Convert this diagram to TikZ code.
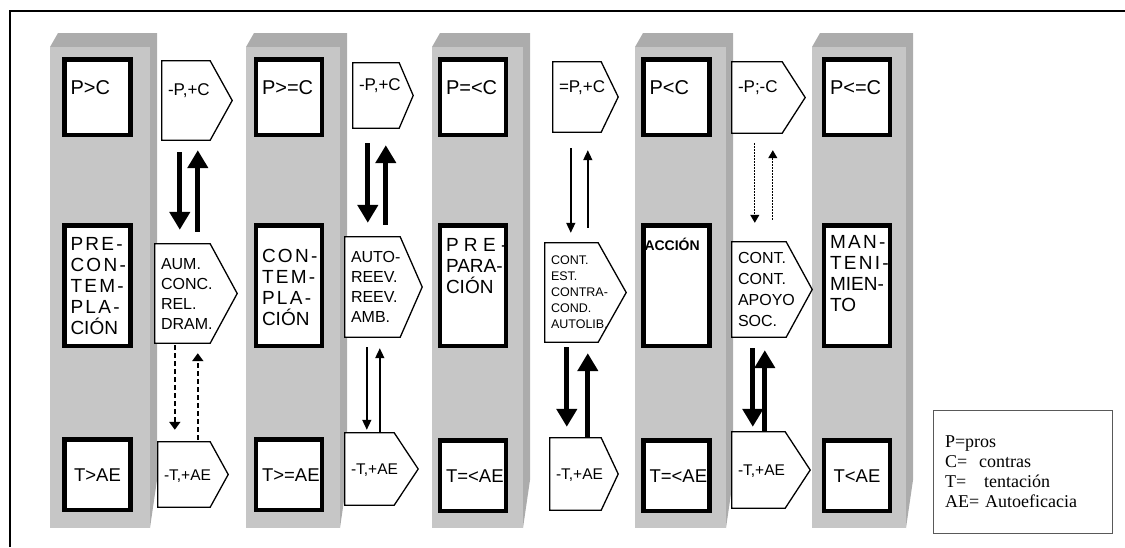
\documentclass[tikz,border=0pt]{standalone}
\usepackage{fontspec}
\setmainfont{Liberation Sans}
\newfontfamily\legendfont{Liberation Serif}
\newfontfamily\spaced{Liberation Sans}[LetterSpace=12]
\newfontfamily\spacedwide{Liberation Sans}[LetterSpace=28]
\usetikzlibrary{arrows.meta,calc,positioning}
\definecolor{pillar}{RGB}{198,198,198}
\definecolor{pillaredge}{RGB}{172,172,172}

\begin{document}
\exhyphenpenalty=10000 \hyphenpenalty=10000
\begin{tikzpicture}[x=1pt,y=-1pt,
  stage/.style={draw, fill=white, line width=4.5, minimum width=66, text width=54,
    inner xsep=6, inner ysep=2, align=left},
  cond/.style={stage, minimum height=75.5, text height=15, text depth=21,
    font=\fontsize{20}{24}\selectfont},
  phase/.style={stage, minimum height=120.5, text height=15,
    font=\fontsize{19}{21}\selectfont},
  risk/.style={stage, minimum height=70.5, align=center, text height=13, text depth=0,
    font=\fontsize{18.5}{22}\selectfont},
  proc/.style={fill=white, inner xsep=6, inner ysep=2, align=left},
  bal/.style={proc, text height=12, text depth=22, font=\fontsize{17}{20}\selectfont},
  tae/.style={proc, text height=11, text depth=0, font=\fontsize{15.5}{18}\selectfont},
  outline/.style={line width=1.3, line join=miter},
  strong/.style={line width=5, -{Triangle[length=18pt,width=20pt]}},
  light/.style={line width=1.5, -{Triangle[length=10pt,width=9pt]}},
  hint/.style={line width=2, dash pattern=on 5pt off 3pt, -{Triangle[length=8pt,width=11pt]}},
  faint/.style={line width=1.2, dash pattern=on 1.5pt off 1.5pt, -{Triangle[length=8pt,width=9pt]}},
  legend/.style={draw=black!65, line width=1, text width=155, inner xsep=12,
    minimum height=123, align=left, font={\fontsize{18}{20}\legendfont}}]
  \useasboundingbox (0,0) rectangle (1125,547);
  % outer frame (open at right and bottom)
  \draw[line width=2] (10,547) -- (10,11) -- (1125,11);

  % pillars, one per stage
  \fill[pillaredge] (50,47) -- (58,33) -- (157,33) -- (157,480) -- (150,528) -- (150,47) -- cycle;
  \fill[pillaredge] (246,47) -- (254,33) -- (347,33) -- (347,480) -- (340,528) -- (340,47) -- cycle;
  \fill[pillaredge] (432,47) -- (440,33) -- (530,33) -- (530,480) -- (523,528) -- (523,47) -- cycle;
  \fill[pillaredge] (635,47) -- (643,33) -- (733,33) -- (733,480) -- (726,528) -- (726,47) -- cycle;
  \fill[pillaredge] (812,47) -- (820,33) -- (913,33) -- (913,480) -- (906,528) -- (906,47) -- cycle;
  % front faces, lighter
  \fill[pillar] (50,47) rectangle (150,528);
  \fill[pillar] (246,47) rectangle (340,528);
  \fill[pillar] (432,47) rectangle (523,528);
  \fill[pillar] (635,47) rectangle (726,528);
  \fill[pillar] (812,47) rectangle (906,528);

  % pros / contras
  \node[cond] (pc1) at (97.5,97) {P>C};
  \node[cond] (pc2) at (289,97) {P>=C};
  \node[cond] (pc3) at (473,97) {P=<C};
  \node[cond] (pc4) at (676.5,97) {P<C};
  \node[cond] (pc5) at (857,97) {P<=C};
  % stages
  \node[phase, text depth=86] (st1) at (97.5,285.5)
    {{\spaced PRE-}\\{\spaced CON-}\\{\spaced TEM-}\\{\spaced PLA-}\\CIÓN};
  \node[phase, text depth=62] (st2) at (289,285.5)
    {{\spaced CON-}\\{\spaced TEM-}\\{\spaced PLA-}\\CIÓN};
  \node[phase, text depth=84] (st3) at (473,285.5) {{\spacedwide PRE-}\\PARA-\\CIÓN};
  \node[phase, text depth=86] (st4) at (676.5,285.5)
    {\hspace*{-5pt}{\fontsize{14}{16}\selectfont\bfseries ACCIÓN}};
  \node[phase, text depth=90] (st5) at (857,285.5) {{\spaced MAN-}\\{\spaced TENI-}\\MIEN-\\TO};
  % temptation / self-efficacy
  \node[risk] (ta1) at (97.5,474.5) {T>AE};
  \node[risk] (ta2) at (289,474.5) {T>=AE};
  \node[risk] (ta3) at (473,475.5) {T=<AE};
  \node[risk] (ta4) at (676.5,475.5) {T=<AE};
  \node[risk] (ta5) at (857,475.5) {T<AE};

  % change of balance (top row)
  \node[bal, minimum width=48, text width=36, minimum height=79] (bal1) at (186,100.5) {-P,+C};
  \node[bal, minimum width=46, text width=34, minimum height=65] (bal2) at (376,95.5) {-P,+C};
  \node[bal, minimum width=48, text width=36, minimum height=70] (bal3) at (577,97) {=P,+C};
  \node[bal, minimum width=50, text width=38, minimum height=71] (bal4) at (757,97.5) {-P;-C};
  % processes of change (middle row)
  \node[proc, minimum width=55, text width=43, minimum height=99, font=\fontsize{16}{20}\selectfont]
    (proc1) at (182.5,293.5) {AUM.\\CONC.\\REL.\\DRAM.};
  \node[proc, minimum width=55, text width=43, minimum height=100, font=\fontsize{16}{20}\selectfont]
    (proc2) at (372.5,287) {AUTO-\\REEV.\\REEV.\\AMB.};
  \node[proc, minimum width=53, text width=41, minimum height=99, font=\fontsize{12.5}{16}\selectfont]
    (proc3) at (571.5,292.5) {CONT.\\EST.\\CONTRA-\\COND.\\AUTOLIB.};
  \node[proc, minimum width=54, text width=42, minimum height=95, font=\fontsize{16}{21}\selectfont]
    (proc4) at (759,289.5) {CONT.\\CONT.\\APOYO\\SOC.};
  % temptation / self-efficacy change (bottom row)
  \node[tae, minimum width=52, text width=40, minimum height=65] (tae1) at (184,474.5) {-T,+AE};
  \node[tae, minimum width=49, text width=37, minimum height=72] (tae2) at (369.5,469) {-T,+AE};
  \node[tae, minimum width=51, text width=39, minimum height=72] (tae3) at (575.5,474) {-T,+AE};
  \node[tae, minimum width=53, text width=41, minimum height=76] (tae4) at (758.5,470) {-T,+AE};

  % pentagon outlines
  \draw[outline] (bal1.north west) -- (bal1.north east) -- ([xshift=22]bal1.east) -- (bal1.south east) -- (bal1.south west) -- cycle;
  \draw[outline] (bal2.north west) -- (bal2.north east) -- ([xshift=14]bal2.east) -- (bal2.south east) -- (bal2.south west) -- cycle;
  \draw[outline] (bal3.north west) -- (bal3.north east) -- ([xshift=17]bal3.east) -- (bal3.south east) -- (bal3.south west) -- cycle;
  \draw[outline] (bal4.north west) -- (bal4.north east) -- ([xshift=23]bal4.east) -- (bal4.south east) -- (bal4.south west) -- cycle;
  \draw[outline] (proc1.north west) -- (proc1.north east) -- ([xshift=27]proc1.east) -- (proc1.south east) -- (proc1.south west) -- cycle;
  \draw[outline] (proc2.north west) -- (proc2.north east) -- ([xshift=22]proc2.east) -- (proc2.south east) -- (proc2.south west) -- cycle;
  \draw[outline] (proc3.north west) -- (proc3.north east) -- ([xshift=28]proc3.east) -- (proc3.south east) -- (proc3.south west) -- cycle;
  \draw[outline] (proc4.north west) -- (proc4.north east) -- ([xshift=26]proc4.east) -- (proc4.south east) -- (proc4.south west) -- cycle;
  \draw[outline] (tae1.north west) -- (tae1.north east) -- ([xshift=18]tae1.east) -- (tae1.south east) -- (tae1.south west) -- cycle;
  \draw[outline] (tae2.north west) -- (tae2.north east) -- ([xshift=24]tae2.east) -- (tae2.south east) -- (tae2.south west) -- cycle;
  \draw[outline] (tae3.north west) -- (tae3.north east) -- ([xshift=17]tae3.east) -- (tae3.south east) -- (tae3.south west) -- cycle;
  \draw[outline] (tae4.north west) -- (tae4.north east) -- ([xshift=25]tae4.east) -- (tae4.south east) -- (tae4.south west) -- cycle;

  % arrows, first gap
  \draw[strong, shorten <=12, shorten >=14] ([xshift=18]bal1.south west) -- ([xshift=25]proc1.north west);
  \draw[strong, shorten <=12, shorten >=10] ([xshift=43]proc1.north west) -- ([xshift=36]bal1.south west);
  \draw[hint, shorten <=2, shorten >=12] ([xshift=20]proc1.south west) -- ([xshift=17]tae1.north west);
  \draw[hint, shorten <=2, shorten >=10] ([xshift=40]tae1.north west) -- ([xshift=43]proc1.south west);
  % second gap
  \draw[strong, shorten <=15, shorten >=14] ([xshift=15]bal2.south west) -- ([xshift=23]proc2.north west);
  \draw[strong, shorten <=12, shorten >=17] ([xshift=41]proc2.north west) -- ([xshift=33]bal2.south west);
  \draw[light, shorten <=10, shorten >=3] ([xshift=22]proc2.south west) -- ([xshift=22]tae2.north west);
  \draw[light, shorten >=11] ([xshift=35]tae2.north west) -- ([xshift=35]proc2.south west);
  % third gap
  \draw[light, shorten <=16, shorten >=10] ([xshift=18]bal3.south west) -- ([xshift=26]proc3.north west);
  \draw[light, shorten <=15, shorten >=18] ([xshift=43]proc3.north west) -- ([xshift=35]bal3.south west);
  \draw[strong, shorten <=5, shorten >=11] ([xshift=22]proc3.south west) -- ([xshift=17]tae3.north west);
  \draw[strong, shorten >=11] ([xshift=38]tae3.north west) -- ([xshift=43]proc3.south west);
  % fourth gap
  \draw[faint, shorten <=10, shorten >=19] ([xshift=23]bal4.south west) -- ([xshift=23]proc4.north west);
  \draw[faint, shorten <=22, shorten >=17] ([xshift=41]proc4.north west) -- ([xshift=41]bal4.south west);
  \draw[strong, shorten <=11, shorten >=5] ([xshift=21]proc4.south west) -- ([xshift=21]tae4.north west);
  \draw[strong, shorten >=13] ([xshift=33]tae4.north west) -- ([xshift=33]proc4.south west);

  % key
  \node[legend] (key) at (1022.5,471.5)
    {P=pros\\C=\ \ contras\\T=\ \ \ tentación\\AE= Autoeficacia};
\end{tikzpicture}
\end{document}
